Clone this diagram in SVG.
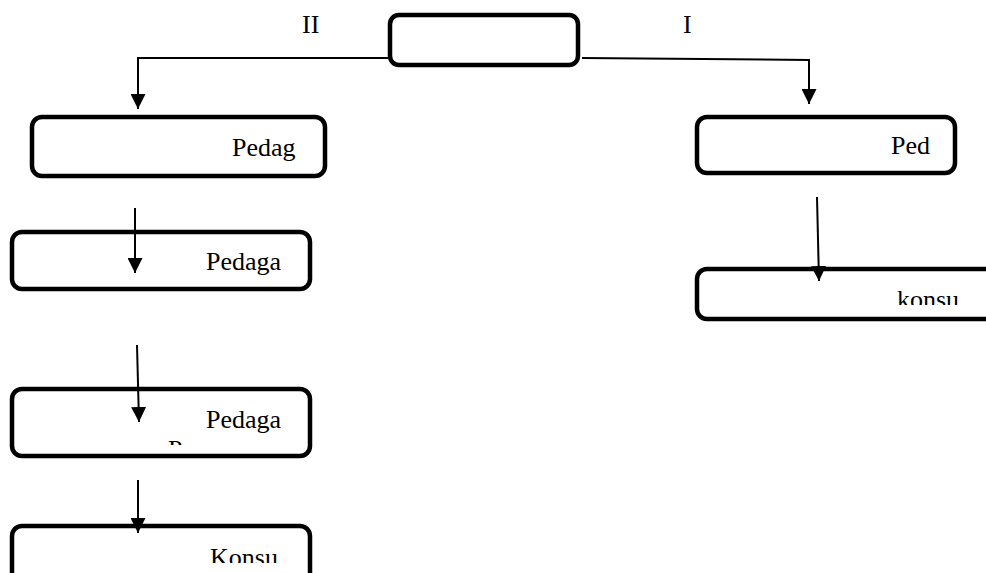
<svg xmlns="http://www.w3.org/2000/svg" width="986" height="573" viewBox="0 0 986 573">
<style>
.box{fill:#fff;stroke:#000;stroke-width:4.5}
.lbl{font-family:"Liberation Serif","Times New Roman",serif;font-size:26px;fill:#000}
.con{fill:none;stroke:#000;stroke-width:2}
</style>
<defs>
<marker id="ah" markerUnits="userSpaceOnUse" markerWidth="16" markerHeight="15" refX="15" refY="7.5" orient="auto" viewBox="0 0 16 15">
<path d="M0,0 L15,7.5 L0,15 Z" fill="#000"/>
</marker>
<clipPath id="cpP"><rect x="150" y="430" width="50" height="15"/></clipPath>
<clipPath id="cpK"><rect x="180" y="530" width="120" height="33"/></clipPath>
<clipPath id="cpk"><rect x="880" y="275" width="100" height="30"/></clipPath>
</defs>
<rect width="986" height="573" fill="#fff"/>
<text class="lbl" x="302" y="33" font-size="27">II</text>
<text class="lbl" x="683" y="33" font-size="27">I</text>
<g id="top"><rect class="box" x="390" y="15" width="188" height="50" rx="9"/></g>
<g id="n1"><rect class="box" x="32" y="117" width="293" height="59" rx="10"/><text class="lbl" x="232" y="156">Pedag</text></g>
<g id="n2"><rect class="box" x="12" y="232" width="298" height="57" rx="10"/><text class="lbl" x="206" y="270">Pedaga</text></g>
<g id="n3"><rect class="box" x="12" y="389" width="298" height="67" rx="10"/><text class="lbl" x="206" y="428">Pedaga</text><text class="lbl" x="168" y="458" clip-path="url(#cpP)">P</text></g>
<g id="n4"><rect class="box" x="12" y="526" width="298" height="60" rx="10"/><text class="lbl" x="210" y="566" clip-path="url(#cpK)">Konsu</text></g>
<g id="r1"><rect class="box" x="697" y="117" width="258" height="56" rx="10"/><text class="lbl" x="891" y="154">Ped</text></g>
<g id="r2"><rect class="box" x="697" y="269" width="310" height="50" rx="10"/><text class="lbl" x="897" y="308" clip-path="url(#cpk)">konsu</text></g>
<g id="connectors">
<path class="con" d="M388,58 H138 V109" marker-end="url(#ah)"/>
<path class="con" d="M582,58 L809,60 V104" marker-end="url(#ah)"/>
<path class="con" d="M135,208 V273" marker-end="url(#ah)"/>
<path class="con" d="M137,345 L139,422" marker-end="url(#ah)"/>
<path class="con" d="M138,480 V533" marker-end="url(#ah)"/>
<path class="con" d="M817,197 L819,281" marker-end="url(#ah)"/>
</g>
</svg>
